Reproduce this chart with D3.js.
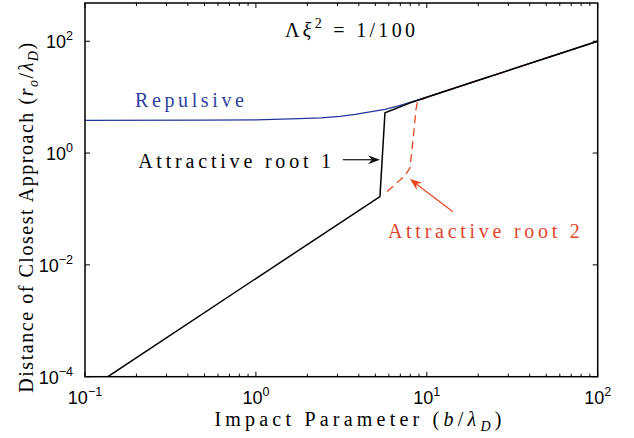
<!DOCTYPE html>
<html>
<head>
<meta charset="utf-8">
<script src="https://cdn.jsdelivr.net/npm/d3@7"></script>
<style>
body { margin: 0; background: #fff; }
</style>
</head>
<body>
<svg id="chart" width="634" height="438"></svg>
<script>
// impact parameter b (x) and closest approach r0 (y)
var repB = [0.1, 0.5, 1, 1.8, 2.4, 3.1, 3.8, 4.65, 5.7, 7.0, 8.5, 10.3, 20, 50, 100];
var repR = [3.85, 3.87, 3.93, 4.13, 4.27, 4.54, 4.93, 5.47, 6.05, 7.13, 8.55, 10.3, 20, 50, 100];

var root1B = [0.136, 1, 5.32, 5.69, 8, 10, 20, 50, 100];
var root1R = [1e-4, 5.7e-3, 0.166, 5.24, 7.9, 9.95, 20, 50, 100];

var root2B = [5.85, 7.45, 7.97, 8.19, 8.42, 8.64, 8.82, 10, 20, 50, 100];
var root2R = [0.206, 0.393, 0.546, 1.15, 2.61, 5.93, 8.3, 9.9, 20, 50, 100];

var xTicks = [0.1, 1, 10, 100];
var xTickExp = ["\u22121", "0", "1", "2"];
var yTicks = [1e-4, 1e-2, 1, 100];
var yTickExp = ["\u22124", "\u22122", "0", "2"];

var SANS = "'Liberation Sans', Arial, Helvetica, sans-serif";
var SERIF = "'Liberation Serif', 'Times New Roman', serif";

var svg = d3.select("#chart");
var pL = 85, pR = 597.7, pT = 3, pB = 376.7;

var x = d3.scaleLog().domain([0.1, 100]).range([pL, pR]);
var y = d3.scaleLog().domain([1e-4, 483]).range([pB, pT]);

svg.append("defs").append("clipPath").attr("id", "plotclip")
  .append("rect")
  .attr("x", pL).attr("y", pT)
  .attr("width", pR - pL).attr("height", pB - pT);

function zip(bs, rs) {
  return bs.map(function(b, i) { return [b, rs[i]]; });
}

var line = d3.line()
  .x(function(d) { return x(d[0]); })
  .y(function(d) { return y(d[1]); });

var plot = svg.append("g").attr("clip-path", "url(#plotclip)");

plot.append("path")
  .datum(zip(repB, repR))
  .attr("d", line)
  .attr("fill", "none")
  .attr("stroke", "#23379a")
  .attr("stroke-width", 1.3);

plot.append("path")
  .datum(zip(root2B, root2R))
  .attr("d", line)
  .attr("fill", "none")
  .attr("stroke", "#e8431e")
  .attr("stroke-width", 1.3)
  .attr("stroke-dasharray", "8,5");

plot.append("path")
  .datum(zip(root1B, root1R))
  .attr("d", line)
  .attr("fill", "none")
  .attr("stroke", "#000")
  .attr("stroke-width", 1.5);

// frame and ticks
svg.append("rect")
  .attr("x", pL).attr("y", pT)
  .attr("width", pR - pL).attr("height", pB - pT)
  .attr("fill", "none").attr("stroke", "#000").attr("stroke-width", 1.5);

var minor = [];
[0.1, 1, 10].forEach(function(d) {
  for (var k = 2; k <= 9; k++) minor.push(d * k);
});

var tickG = svg.append("g").attr("stroke", "#000").attr("stroke-width", 1);
minor.forEach(function(v) {
  tickG.append("line").attr("x1", x(v)).attr("x2", x(v)).attr("y1", pB).attr("y2", pB - 3);
  tickG.append("line").attr("x1", x(v)).attr("x2", x(v)).attr("y1", pT).attr("y2", pT + 3);
});
xTicks.forEach(function(v) {
  tickG.append("line").attr("x1", x(v)).attr("x2", x(v)).attr("y1", pB).attr("y2", pB - 5);
  tickG.append("line").attr("x1", x(v)).attr("x2", x(v)).attr("y1", pT).attr("y2", pT + 5);
});
yTicks.forEach(function(v) {
  tickG.append("line").attr("y1", y(v)).attr("y2", y(v)).attr("x1", pL).attr("x2", pL + 5);
  tickG.append("line").attr("y1", y(v)).attr("y2", y(v)).attr("x1", pR).attr("x2", pR - 5);
});

function tickLabel(px, py, anchor, exp) {
  var t = svg.append("text")
    .style("font-family", SANS).style("font-size", "18px")
    .attr("x", px).attr("y", py)
    .attr("text-anchor", anchor);
  t.append("tspan").text("10");
  t.append("tspan").attr("dy", -8).style("font-size", "12.5px").text(exp);
}
xTicks.forEach(function(v, i) { tickLabel(x(v), pB + 27, "middle", xTickExp[i]); });
yTicks.forEach(function(v, i) { tickLabel(pL - 12, y(v) + 7, "end", yTickExp[i]); });

// text made of pieces: [string, kind] where kind is "", "i", "sub", "sup"
// spread letters out to the measured width, like the LaTeX text in the figure
function texText(g, parts, width) {
  var t = g.append("text")
    .style("font-family", SERIF).style("font-size", "20px");
  var shift = 0, n = 0;
  parts.forEach(function(p) {
    var s = t.append("tspan").text(p[0]);
    n += p[0].length;
    var kind = p[1] || "";
    var want = 0;
    if (kind.indexOf("sub") >= 0) want = 5;
    if (kind.indexOf("sup") >= 0) want = -9;
    if (want !== shift) { s.attr("dy", want - shift); shift = want; }
    if (kind.indexOf("i") === 0 || kind.indexOf("it") >= 0) s.style("font-style", "italic");
    if (kind.indexOf("sub") >= 0 || kind.indexOf("sup") >= 0) s.style("font-size", "14px");
  });
  var natural = t.node().getComputedTextLength();
  if (width && n > 1) t.style("letter-spacing", ((width - natural) / (n - 1)) + "px");
  return t;
}

// axis labels
texText(svg, [["Impact Parameter ("], ["b", "i"], ["/"], ["\u03bb", "i"], ["D", "sub it"], [")"]], 287)
  .attr("x", 360).attr("y", 426)
  .attr("text-anchor", "middle");

texText(svg, [["Distance of Closest Approach ("], ["r", "i"], ["o", "sub it"], ["/"], ["\u03bb", "i"], ["D", "sub it"], [")"]], 350)
  .attr("transform", "translate(33,217) rotate(-90)")
  .attr("text-anchor", "middle");

// annotations, placed in data units
texText(svg, [["\u039b"], ["\u03be", "i"], ["2", "sup"], [" = 1/100"]], 130)
  .attr("x", x(1.48)).attr("y", y(119));

texText(svg, [["Repulsive"]], 109)
  .attr("x", x(0.196)).attr("y", y(6.7))
  .style("fill", "#2e3f9e");

texText(svg, [["Attractive root 1"]], 193)
  .attr("x", x(2.9)).attr("y", y(0.546))
  .attr("text-anchor", "end");

texText(svg, [["Attractive root 2"]], 192)
  .attr("x", x(5.92)).attr("y", y(0.0307))
  .style("fill", "#e2452a");

function arrow(b0, r0, b1, r1, color) {
  var x0 = x(b0), y0 = y(r0), x1 = x(b1), y1 = y(r1);
  var a = Math.atan2(y1 - y0, x1 - x0);
  svg.append("line")
    .attr("x1", x0).attr("y1", y0)
    .attr("x2", x1 - 6 * Math.cos(a)).attr("y2", y1 - 6 * Math.sin(a))
    .attr("stroke", color).attr("stroke-width", 1.2);
  svg.append("path")
    .attr("d", "M0,0 L-12,-4.5 L-8,0 L-12,4.5 Z")
    .attr("transform", "translate(" + x1 + "," + y1 + ") rotate(" + (a * 180 / Math.PI) + ")")
    .attr("fill", color);
}
arrow(3.23, 0.76, 5.32, 0.76, "#111");
arrow(14.2, 0.0895, 7.97, 0.343, "#e8431e");
</script>
</body>
</html>
